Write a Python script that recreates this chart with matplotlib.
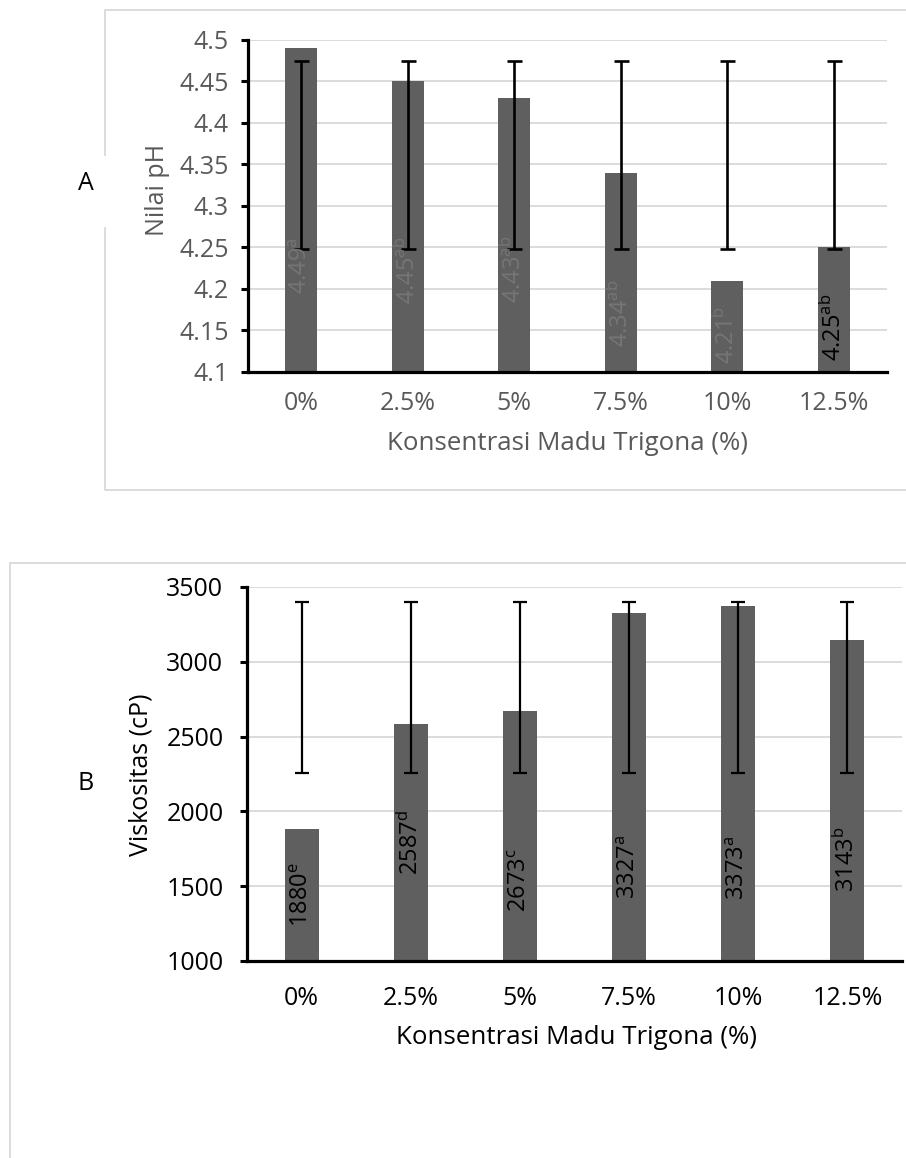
import matplotlib
matplotlib.use("Agg")
import matplotlib.pyplot as plt
from matplotlib.lines import Line2D
import numpy as np

plt.rcParams['font.family'] = ['Open Sans', 'DejaVu Sans']
plt.rcParams['mathtext.default'] = 'regular'

# ---- data ----
categories = ['0%', '2.5%', '5%', '7.5%', '10%', '12.5%']

ph_values = [4.49, 4.45, 4.43, 4.34, 4.21, 4.25]
ph_letters = ['a', 'ab', 'ab', 'ab', 'b', 'ab']
ph_err_low = [4.248, 4.248, 4.248, 4.248, 4.248, 4.248]
ph_err_high = [4.475, 4.475, 4.475, 4.475, 4.475, 4.475]
ph_ticks = [4.1, 4.15, 4.2, 4.25, 4.3, 4.35, 4.4, 4.45, 4.5]
ph_tick_labels = ['4.1', '4.15', '4.2', '4.25', '4.3', '4.35', '4.4', '4.45', '4.5']

visc_values = [1880, 2587, 2673, 3327, 3373, 3143]
visc_letters = ['e', 'd', 'c', 'a', 'a', 'b']
visc_err_low = [2260, 2260, 2260, 2260, 2260, 2260]
visc_err_high = [3400, 3400, 3400, 3400, 3400, 3400]
visc_ticks = [1000, 1500, 2000, 2500, 3000, 3500]

# label centre heights (data units) inside the bars
ph_label_mid = [4.228, 4.223, 4.224, 4.171, 4.145, 4.154]
ph_label_colors = ['#767676'] * 5 + ['#000000']
visc_label_mid = [1441, 1795, 1541, 1628, 1622, 1682]

W, H = 906, 1158
fig = plt.figure(figsize=(W / 100, H / 100), dpi=100)
fig.patch.set_facecolor('white')

BAR = '#5f5f5f'
GRID = '#d9d9d9'
GRAY = '#595959'


def frac(x0, y0, x1, y1):
    return [x0 / W, 1 - y1 / H, (x1 - x0) / W, (y1 - y0) / H]


def style_axes(ax, color, ticks, ypad, xpad):
    for s in ['top', 'right']:
        ax.spines[s].set_visible(False)
    for s in ['left', 'bottom']:
        ax.spines[s].set_linewidth(2.3)
        ax.spines[s].set_color('black')
        ax.spines[s].set_zorder(5)
    ax.set_yticks(ticks)
    ax.tick_params(axis='y', length=5, width=2.2, colors='black',
                   labelcolor=color, labelsize=18, pad=ypad)
    ax.tick_params(axis='x', length=0, labelcolor=color, labelsize=18, pad=xpad)
    ax.yaxis.grid(True, color=GRID, linewidth=1.3)
    ax.set_axisbelow(True)
    ax.set_xlim(-0.5, len(categories) - 0.5)


def border(points):
    xs = [p[0] / W for p in points]
    ys = [1 - p[1] / H for p in points]
    fig.add_artist(Line2D(xs, ys, color=GRID, linewidth=1.3,
                          transform=fig.transFigure))


# ---- panel A: pH ----
axA = fig.add_axes(frac(248, 40, 887, 372))
x = np.arange(len(categories))
axA.bar(x, ph_values, width=0.30, color=BAR, zorder=2)
lo = np.array(ph_err_low)
hi = np.array(ph_err_high)
axA.errorbar(x, hi, yerr=[hi - lo, np.zeros_like(hi)], fmt='none',
             ecolor='black', elinewidth=1.9, capsize=5.4, capthick=1.9, zorder=3)
axA.set_ylim(4.1, 4.5)
style_axes(axA, GRAY, ph_ticks, ypad=9, xpad=14)
axA.set_yticklabels(ph_tick_labels)
axA.set_xticks(x)
axA.set_xticklabels(categories)
for xi, v, let, ym, c in zip(x, ph_values, ph_letters, ph_label_mid, ph_label_colors):
    axA.text(xi, ym, f'{v:.2f}$^{{{let}}}$', rotation=90, ha='center',
             va='center', color=c, fontsize=17, zorder=4)
axA.set_ylabel('Nilai pH', color=GRAY, fontsize=18)
axA.yaxis.label.set_va('center')
axA.yaxis.set_label_coords((157 - 248) / 639, (372 - 190) / 332)
axA.set_xlabel('Konsentrasi Madu Trigona (%)', color=GRAY, fontsize=18.6)
axA.xaxis.label.set_va('center')
axA.xaxis.set_label_coords(0.5, -(443 - 372) / 332)

# ---- panel B: viscosity ----
axB = fig.add_axes(frac(247, 587, 902, 961))
axB.bar(x, visc_values, width=0.31, color=BAR, zorder=2)
lo = np.array(visc_err_low)
hi = np.array(visc_err_high)
axB.errorbar(x, hi, yerr=[hi - lo, np.zeros_like(hi)], fmt='none',
             ecolor='black', elinewidth=1.6, capsize=4.8, capthick=1.6, zorder=3)
axB.set_ylim(1000, 3500)
style_axes(axB, 'black', visc_ticks, ypad=12, xpad=18)
axB.set_xticks(x)
axB.set_xticklabels(categories)
for xi, v, let, ym in zip(x, visc_values, visc_letters, visc_label_mid):
    axB.text(xi, ym, f'{v}$^{{{let}}}$', rotation=90, ha='center',
             va='center', color='black', fontsize=17, zorder=4)
axB.set_ylabel('Viskositas (cP)', color='black', fontsize=18)
axB.yaxis.label.set_va('center')
axB.yaxis.set_label_coords((141 - 247) / 655, (961 - 775) / 374)
axB.set_xlabel('Konsentrasi Madu Trigona (%)', color='black', fontsize=18.6)
axB.xaxis.label.set_va('center')
axB.xaxis.set_label_coords((577 - 247) / 655, -(1038 - 961) / 374)

# ---- frames and panel letters ----
border([(906, 10), (105, 10), (105, 155)])
border([(105, 228), (105, 490), (906, 490)])
border([(906, 563), (10, 563), (10, 1158)])

fig.text(86 / W, 1 - 183 / H, 'A', fontsize=18, ha='center', va='center', color='black')
fig.text(86 / W, 1 - 783 / H, 'B', fontsize=18, ha='center', va='center', color='black')

fig.savefig('out.png', dpi=100, facecolor='white')
